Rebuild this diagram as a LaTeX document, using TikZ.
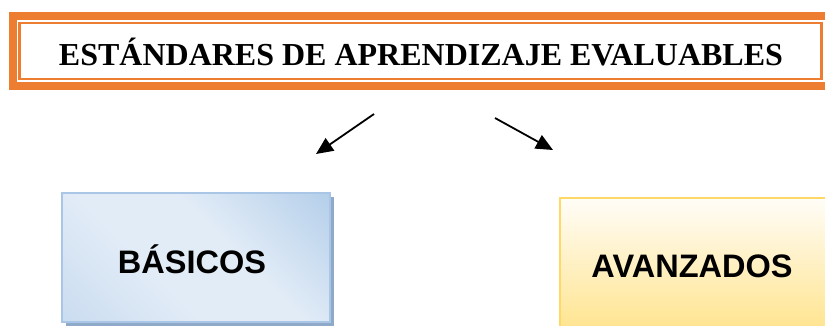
\documentclass[tikz,border=0pt]{standalone}
\usepackage{fontspec}
\setmainfont{Liberation Serif}
\newfontfamily\arialfont{Liberation Sans}
\usetikzlibrary{arrows.meta,shadings}
\definecolor{orangeA}{HTML}{ED7D31}
\definecolor{blueL}{HTML}{E2ECF7}
\definecolor{blueM}{HTML}{BCD3EC}
\definecolor{blueD}{HTML}{9CBFE3}
\definecolor{blueBorder}{HTML}{A9C6E6}
\definecolor{blueShadow}{HTML}{8FA9C9}
\definecolor{goldBorder}{HTML}{FFD966}
\definecolor{goldTop}{HTML}{FFFDF8}
\definecolor{goldBot}{HTML}{FFE48F}
\pgfdeclarehorizontalshading{bluediag}{100bp}{color(0bp)=(blueM); color(40bp)=(blueL); color(58bp)=(blueL); color(100bp)=(blueD)}
\tikzset{
  titletext/.style={font=\bfseries\fontsize{32}{38}\selectfont, anchor=base, inner sep=0pt},
  boxtext/.style={font=\arialfont\bfseries\fontsize{32.5}{38}\selectfont, anchor=base, inner sep=0pt},
  arr/.style={line width=1.8pt, -{Triangle[length=17pt,width=15pt]}}
}
\begin{document}
\begin{tikzpicture}[x=1pt,y=-1pt]
\useasboundingbox (0,0) rectangle (825,325);
\clip (0,0) rectangle (825,325);
% title frame
\draw[orangeA, line width=8pt] (13,16) rectangle (835,86);
\draw[orangeA, line width=2.4pt] (19.5,23) rectangle (821.5,79);
\node[titletext] (title) at (421,65) {ESTÁNDARES DE APRENDIZAJE EVALUABLES};
% arrows
\coordinate (l1) at (374,114);
\coordinate (l2) at (316,154);
\coordinate (r1) at (495,118);
\coordinate (r2) at (553,150);
\draw[arr] (l1) -- (l2);
\draw[arr] (r1) -- (r2);
% basicos box
\fill[blueShadow] (65.5,196.5) rectangle (333.5,325.5);
\shade[shading=bluediag, shading angle=45] (62,193) rectangle (330,322);
\draw[blueBorder, line width=1.6pt] (62,193) rectangle (330,322);
\node[boxtext] (bas) at (192,273) {BÁSICOS};
% avanzados box
\shade[top color=goldTop, bottom color=goldBot] (560,197.5) rectangle (835,330);
\draw[goldBorder, line width=2pt] (560,197.5) rectangle (835,330);
\node[boxtext] (ava) at (692,277) {AVANZADOS};
\end{tikzpicture}
\end{document}
